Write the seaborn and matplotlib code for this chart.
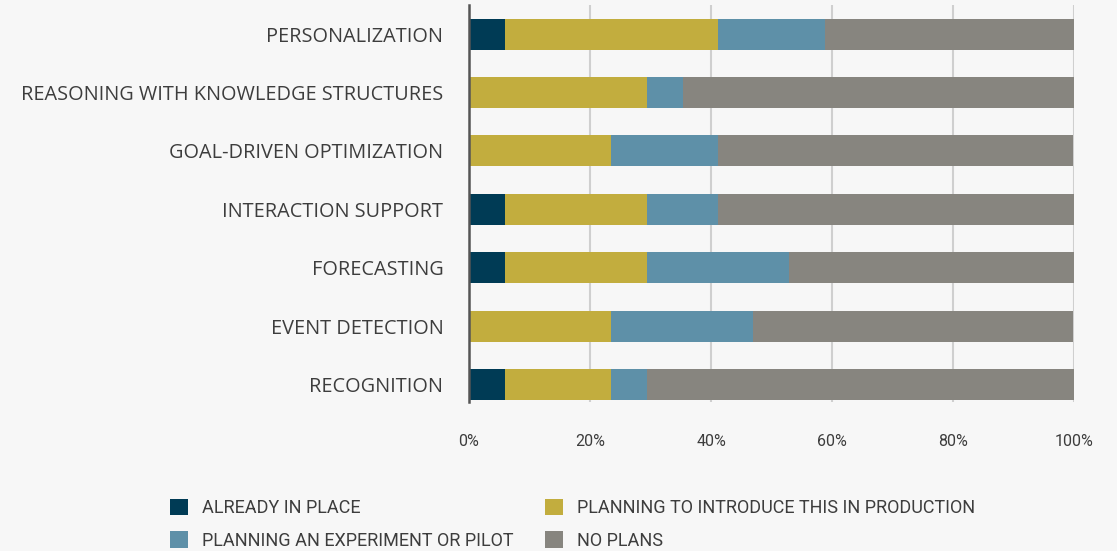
import matplotlib
matplotlib.use("Agg")
import matplotlib.pyplot as plt
from matplotlib.patches import Patch
import pandas as pd
import seaborn as sns

CATEGORIES = [
    "PERSONALIZATION",
    "REASONING WITH KNOWLEDGE STRUCTURES",
    "GOAL-DRIVEN OPTIMIZATION",
    "INTERACTION SUPPORT",
    "FORECASTING",
    "EVENT DETECTION",
    "RECOGNITION",
]
ALREADY = [5.9, 0.0, 0.0, 5.9, 5.9, 0.0, 5.9]
INTRODUCE = [35.3, 29.4, 23.5, 23.5, 23.5, 23.5, 17.6]
EXPERIMENT = [17.6, 5.9, 17.6, 11.8, 23.5, 23.5, 5.9]
NO_PLANS = [41.2, 64.7, 58.8, 58.8, 47.1, 52.9, 70.6]

SERIES = [
    "ALREADY IN PLACE",
    "PLANNING TO INTRODUCE THIS IN PRODUCTION",
    "PLANNING AN EXPERIMENT OR PILOT",
    "NO PLANS",
]
COLORS = ["#003b55", "#c2ad3e", "#5e90a8", "#87857f"]
TICKS = [0, 20, 40, 60, 80, 100]

BG = "#f7f7f7"
TEXT = "#3d3d3d"
NARROW = ["Roboto", "DejaVu Sans"]

sns.set_theme(style="white")
plt.rcParams["font.family"] = ["Open Sans", "DejaVu Sans"]

df = pd.DataFrame({
    "category": CATEGORIES,
    SERIES[0]: ALREADY,
    SERIES[1]: INTRODUCE,
    SERIES[2]: EXPERIMENT,
    SERIES[3]: NO_PLANS,
})
cum = df[SERIES].cumsum(axis=1)

fig = plt.figure(figsize=(11.17, 5.51), dpi=100, facecolor=BG)
ax = fig.add_axes([0.4199, 0.2704, 0.5416, 0.7206])
ax.set_facecolor(BG)

for x in TICKS[1:]:
    ax.axvline(x, color="#cfcfcf", lw=1.5, zorder=0)

# stacked bars: draw the cumulative totals from the longest down
for name, color in reversed(list(zip(SERIES, COLORS))):
    sns.barplot(x=cum[name], y=df["category"], orient="h", color=color,
                width=0.53, linewidth=0, saturation=1, ax=ax, zorder=2)

ax.set_xlim(0, 100)
ax.set_ylim(6.3, -0.5)
ax.set_xticks(TICKS)
ax.set_xticklabels([f"{t}%" for t in TICKS], family=NARROW)
ax.set_xlabel("")
ax.set_ylabel("")
ax.tick_params(axis="x", length=0, pad=23, labelsize=11.5, colors=TEXT)
ax.tick_params(axis="y", length=0, pad=18.5, labelsize=14.3, colors=TEXT)
for side in ["top", "right", "bottom"]:
    ax.spines[side].set_visible(False)
ax.spines["left"].set_color("#555555")
ax.spines["left"].set_linewidth(1.8)
ax.spines["left"].set_zorder(3)

order = [0, 2, 1, 3]
handles = [Patch(facecolor=COLORS[i], edgecolor="none", label=SERIES[i]) for i in order]
fig.legend(handles=handles, loc="upper left", bbox_to_anchor=(0.138, 0.1245),
           ncol=2, frameon=False, handlelength=1.0, handleheight=1.0,
           handletextpad=0.75, columnspacing=1.75, labelspacing=0.8,
           prop={"family": NARROW, "size": 13},
           labelcolor=TEXT)

fig.savefig("out.png", dpi=100, facecolor=BG)
